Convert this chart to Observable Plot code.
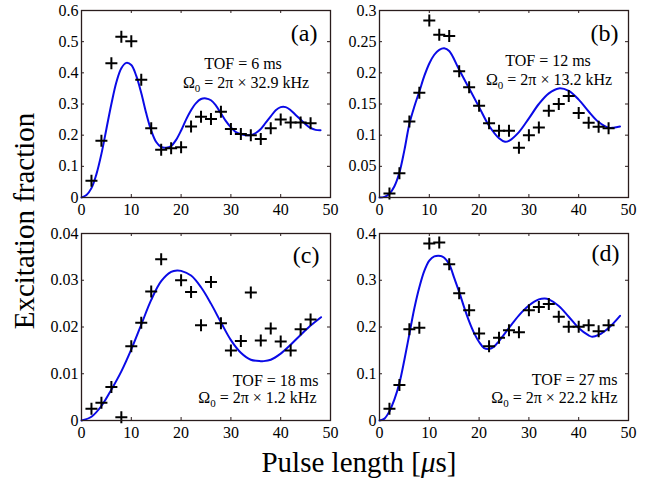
<!DOCTYPE html>
<html><head><meta charset="utf-8">
<script src="https://cdn.jsdelivr.net/npm/d3@7"></script>
<script src="https://cdn.jsdelivr.net/npm/@observablehq/plot@0.6"></script>
<style>
body{margin:0;background:#fff;}
#wrap{position:relative;width:662px;height:480px;font-family:"Liberation Serif","DejaVu Serif",serif;}
.panel{position:absolute;}
#wrap svg text{font-family:"Liberation Serif","DejaVu Serif",serif;}
</style></head><body><div id="wrap"></div>
<script>
// ---- data ----
const xTicks = [0, 10, 20, 30, 40, 50];

const pulseA = [2,4,6,8,10,12,14,16,18,20,22,24,26,28,30,32,34,36,38,40,42,44,46];
const fracA  = [0.054,0.182,0.431,0.516,0.501,0.378,0.222,0.153,0.158,0.161,0.228,0.259,0.252,0.275,0.220,0.204,0.200,0.188,0.222,0.250,0.241,0.241,0.238];
const fitXA  = [0,1,2,3,4,5,6,7,8,9,10,11,12,13,14,15,16,17,18,19,20,21,22,23,24,25,26,27,28,29,30,31,32,33,34,35,36,37,38,39,40,41,42,43,44,45,46,47,48];
const fitYA  = [0,0.008,0.03,0.075,0.14,0.22,0.3,0.37,0.415,0.432,0.425,0.39,0.335,0.27,0.215,0.178,0.162,0.16,0.165,0.185,0.215,0.25,0.28,0.303,0.316,0.318,0.312,0.295,0.27,0.245,0.225,0.21,0.203,0.2,0.2,0.207,0.22,0.24,0.26,0.28,0.29,0.29,0.28,0.265,0.25,0.235,0.223,0.217,0.216];
const yTicksA = [0,0.1,0.2,0.3,0.4,0.5,0.6];

const pulseB = [2,4,6,8,10,12,14,16,18,20,22,24,26,28,30,32,34,36,38,40,42,44,46];
const fracB  = [0.0064,0.039,0.122,0.168,0.284,0.261,0.259,0.2025,0.177,0.147,0.119,0.107,0.107,0.080,0.100,0.1125,0.139,0.150,0.163,0.1355,0.120,0.1136,0.111];
const fitXB  = [0,1,2,3,4,5,6,7,8,9,10,11,12,13,14,16,18,20,22,24,25.2,26,28,30,32,34,36,38,40,42,44,46,47,48.3];
const fitYB  = [0,0.001,0.006,0.018,0.04,0.076,0.118,0.146,0.17,0.195,0.215,0.229,0.237,0.2395,0.235,0.205,0.175,0.145,0.115,0.095,0.0895,0.091,0.105,0.127,0.150,0.167,0.175,0.171,0.157,0.138,0.121,0.112,0.112,0.114];
const yTicksB = [0,0.05,0.1,0.15,0.2,0.25,0.3];

const pulseC = [2,4,6,8,10,12,14,16,20,22,24,26,28,30,32,34,36,38,40,42,44,46];
const fracC  = [0.0025,0.0038,0.00714,0.0007,0.0159,0.0209,0.0276,0.0345,0.030,0.0275,0.0204,0.0296,0.0208,0.0150,0.0170,0.0274,0.0171,0.0197,0.0169,0.0150,0.0195,0.0216];
const fitXC  = [0,2,4,6,8,10,12,14,16,18,19.2,20,22,24,26,28,30,32,34,36,36.6,38,40,42,44,46,48.1];
const fitYC  = [0,0.0008,0.0031,0.0066,0.0105,0.0152,0.0205,0.0258,0.0298,0.0318,0.0321,0.032,0.031,0.0285,0.025,0.021,0.0172,0.0145,0.013,0.0127,0.0127,0.013,0.0143,0.0162,0.0183,0.0203,0.0221];
const yTicksC = [0,0.01,0.02,0.03,0.04];

const pulseD = [2,4,6,8,10,12,14,16,18,20,22,24,26,28,30,32,34,36,38,40,42,44,46];
const fracD  = [0.025,0.0757,0.195,0.1986,0.3786,0.381,0.334,0.272,0.236,0.186,0.159,0.177,0.193,0.189,0.236,0.243,0.249,0.222,0.2007,0.2007,0.2036,0.191,0.204];
const fitXD  = [0,1,2,3,4,5,6,7,8,9,10,11,12.3,13,14,15,16,17,18,19,20,21,22,23,24,26,28,30,32,33.2,34,36,38,40,42,42.7,44,46,48.3];
const fitYD  = [0,0.004,0.02,0.045,0.08,0.13,0.185,0.24,0.285,0.32,0.342,0.351,0.352,0.348,0.334,0.305,0.275,0.242,0.212,0.187,0.168,0.155,0.153,0.158,0.17,0.198,0.225,0.246,0.259,0.261,0.259,0.245,0.222,0.198,0.182,0.179,0.183,0.198,0.224];
const yTicksD = [0,0.1,0.2,0.3,0.4];

const panelLabels = ["(a)", "(b)", "(c)", "(d)"];
const tofLabels = ["TOF = 6 ms", "TOF = 12 ms", "TOF = 18 ms", "TOF = 27 ms"];
const omegaLabels = ["Ω0 = 2π × 32.9 kHz", "Ω0 = 2π × 13.2 kHz", "Ω0 = 2π × 1.2 kHz", "Ω0 = 2π × 22.2 kHz"];
const xTitleParts = ["Pulse length [", "μ", "s]"];
const yTitle = "Excitation fraction";

// ---- drawing ----
const FONT = '"Liberation Serif","DejaVu Serif",serif';
const FRAME = "#2a1c1c";
const cross = {draw(ctx, size) { const r = Math.sqrt(size / Math.PI); ctx.moveTo(-r, 0); ctx.lineTo(r, 0); ctx.moveTo(0, -r); ctx.lineTo(0, r); }};

const panels = [
  {px: pulseA, py: fracA, fx: fitXA, fy: fitYA, yt: yTicksA, left: 0, top: 0, ml: 81},
  {px: pulseB, py: fracB, fx: fitXB, fy: fitYB, yt: yTicksB, left: 330, top: 0, ml: 49},
  {px: pulseC, py: fracC, fx: fitXC, fy: fitYC, yt: yTicksC, left: 0, top: 223, ml: 81},
  {px: pulseD, py: fracD, fx: fitXD, fy: fitYD, yt: yTicksD, left: 330, top: 223, ml: 49}
];
const textOffsets = [
  {tof: {fa: "top", dx: 37, dy: 53, ta: "middle"}, om: {fa: "top", dx: 40, dy: 72, ta: "middle"}, lab: {dx: -13, dy: 23}},
  {tof: {fa: "top", dx: 44, dy: 50, ta: "middle"}, om: {fa: "top", dx: 45, dy: 69, ta: "middle"}, lab: {dx: -10, dy: 23}},
  {tof: {fa: "bottom-right", dx: -12, dy: -40, ta: "end"}, om: {fa: "bottom-right", dx: -14, dy: -23, ta: "end"}, lab: {dx: -11, dy: 22}},
  {tof: {fa: "bottom-right", dx: -11, dy: -41, ta: "end"}, om: {fa: "bottom-right", dx: -11, dy: -23, ta: "end"}, lab: {dx: -9, dy: 20}}
];

const wrap = document.getElementById("wrap");
const W = 249, H = 187, MT = 10, MB = 28;

panels.forEach((p, i) => {
  const pts = p.px.map((x, k) => ({x, y: p.py[k]}));
  const fit = p.fx.map((x, k) => ({x, y: p.fy[k]}));
  const to = textOffsets[i];
  const yMax = p.yt[p.yt.length - 1];
  const plot = Plot.plot({
    width: p.ml + W + 20,
    height: MT + H + MB,
    marginLeft: p.ml, marginRight: 20, marginTop: MT, marginBottom: MB,
    style: {fontFamily: FONT, fontSize: "16px", color: "black", background: "transparent", overflow: "visible"},
    x: {domain: [0, 50]},
    y: {domain: [0, yMax]},
    marks: [
      Plot.line(fit, {x: "x", y: "y", stroke: "#0a0ae6", strokeWidth: 2, curve: "catmull-rom"}),
      Plot.dot(pts, {x: "x", y: "y", symbol: cross, r: 6, stroke: "black", fill: "none", strokeWidth: 2}),
      Plot.axisX(xTicks, {tickSize: 0, tickPadding: 6, tickFormat: d => String(d), fontSize: 16, fontFamily: FONT, label: null}),
      Plot.axisY(p.yt, {tickSize: 0, tickPadding: 3, tickFormat: d => String(d), fontSize: 16, fontFamily: FONT, label: null}),
      Plot.tickX(xTicks, {x: d => d, insetTop: H - 3, stroke: FRAME, strokeWidth: 1}),
      Plot.tickX(xTicks, {x: d => d, insetBottom: H - 3, stroke: FRAME, strokeWidth: 1}),
      Plot.tickY(p.yt, {y: d => d, insetRight: W - 3, stroke: FRAME, strokeWidth: 1}),
      Plot.tickY(p.yt, {y: d => d, insetLeft: W - 3, stroke: FRAME, strokeWidth: 1}),
      Plot.frame({stroke: FRAME, strokeWidth: 1.3}),
      Plot.text([panelLabels[i]], {frameAnchor: "top-right", text: d => d, textAnchor: "end", lineAnchor: "middle", dx: to.lab.dx, dy: to.lab.dy, fontSize: 24}),
      Plot.text([tofLabels[i]], {frameAnchor: to.tof.fa, text: d => d, textAnchor: to.tof.ta, lineAnchor: "middle", dx: to.tof.dx, dy: to.tof.dy, fontSize: 16}),
      Plot.text([omegaLabels[i]], {frameAnchor: to.om.fa, text: d => d, textAnchor: to.om.ta, lineAnchor: "middle", dx: to.om.dx, dy: to.om.dy, fontSize: 16})
    ]
  });
  plot.classList.add("panel");
  plot.style.left = p.left + "px";
  plot.style.top = p.top + "px";
  wrap.appendChild(plot);
});

// subscript for Ω0
d3.selectAll("#wrap text").each(function() {
  const t = this.textContent;
  if (t.startsWith("Ω0")) {
    const sel = d3.select(this);
    sel.text(null);
    sel.append("tspan").text("Ω");
    sel.append("tspan").attr("font-size", "11px").attr("dy", "4").text("0");
    sel.append("tspan").attr("dy", "-4").text(t.slice(2));
  }
});

// axis titles
const svg = d3.select(wrap).append("svg")
  .attr("width", 662).attr("height", 480)
  .style("position", "absolute").style("left", 0).style("top", 0)
  .style("pointer-events", "none");
svg.append("text")
  .attr("transform", "translate(24,221) rotate(-90)")
  .attr("text-anchor", "middle").attr("dominant-baseline", "central")
  .attr("font-family", FONT).attr("font-size", 29).text(yTitle);
const xt = svg.append("text")
  .attr("x", 359).attr("y", 462)
  .attr("text-anchor", "middle").attr("dominant-baseline", "central")
  .attr("font-family", FONT).attr("font-size", 29);
xt.append("tspan").text(xTitleParts[0]);
xt.append("tspan").attr("font-style", "italic").text(xTitleParts[1]);
xt.append("tspan").text(xTitleParts[2]);
</script></body></html>
